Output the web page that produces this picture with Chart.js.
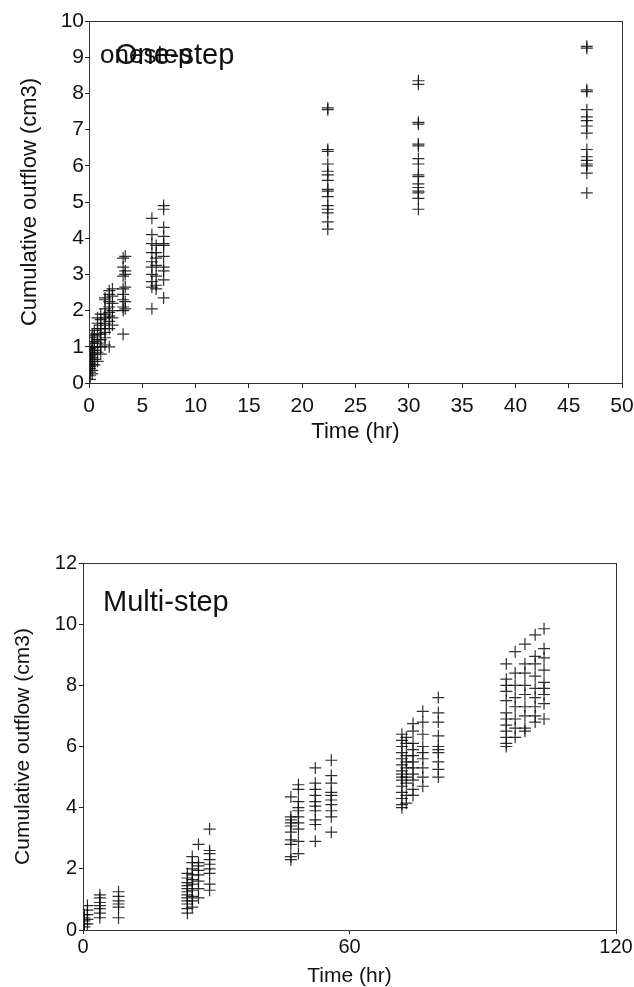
<!DOCTYPE html>
<html>
<head>
<meta charset="utf-8">
<title>Cumulative outflow</title>
<script src="https://cdn.jsdelivr.net/npm/chart.js@4.4.0/dist/chart.umd.min.js"></script>
<style>
    body {
        margin: 0;
        background: #fff;
        width: 634px;
        height: 987px;
        position: relative;
        overflow: hidden;
        font-family: "Liberation Sans", Arial, sans-serif;
    }
    .panel { position: absolute; left: 0; width: 634px; }
    #onePanel { top: 0; height: 450px; }
    #multiPanel { top: 500px; height: 487px; }
    .tag {
        position: absolute;
        color: #111;
        line-height: 1;
        white-space: nowrap;
    }
</style>
</head>
<body>
<div class="panel" id="onePanel"><canvas id="oneStepChart" width="634" height="450"></canvas></div>
<div class="panel" id="multiPanel"><canvas id="multiStepChart" width="634" height="487"></canvas></div>
<div class="tag" style="left:100px; top:41px; font-size:26px;">onestep</div>
<div class="tag" style="left:115px; top:40px; font-size:29px;">One-step</div>
<div class="tag" style="left:103px; top:587px; font-size:29px;">Multi-step</div>

<script>
// One-step run: sampling times (hr) and outflow readings (cm3) at each time
const oneStepTimes = [0.1, 0.3, 0.5, 0.8, 1.1, 1.5, 1.9, 2.2, 3.2, 3.4, 5.9, 6.3, 7.0, 22.4, 30.9, 46.7];
const oneStepOutflow = [
    [0.1, 0.2, 0.3, 0.4, 0.45, 0.55, 0.65, 0.75, 0.85, 0.95],
    [0.25, 0.35, 0.5, 0.6, 0.7, 0.8, 0.9, 1.0, 1.1, 1.25, 1.35],
    [0.5, 0.65, 0.8, 0.9, 1.0, 1.15, 1.3, 1.45],
    [0.6, 0.85, 1.0, 1.1, 1.2, 1.35, 1.5, 1.65, 1.8],
    [0.8, 1.0, 1.2, 1.35, 1.5, 1.6, 1.75, 1.9],
    [1.05, 1.25, 1.4, 1.5, 1.65, 1.8, 1.9, 2.05, 2.3, 2.35],
    [1.0, 1.5, 1.7, 1.85, 1.95, 2.1, 2.25, 2.45, 2.55],
    [1.6, 1.8, 2.0, 2.2, 2.4, 2.6],
    [1.35, 2.0, 2.1, 2.3, 2.45, 2.6, 2.95, 3.2, 3.45],
    [2.05, 2.25, 2.65, 3.0, 3.1, 3.5],
    [2.05, 2.65, 2.8, 3.0, 3.2, 3.35, 3.6, 3.85, 4.1, 4.55],
    [2.6, 2.7, 2.95, 3.25, 3.45, 3.6, 3.8],
    [2.35, 2.85, 3.1, 3.2, 3.5, 3.8, 3.85, 4.05, 4.3, 4.8, 4.9],
    [7.6, 7.55, 6.45, 6.4, 6.05, 5.85, 5.75, 5.6, 5.35, 5.3, 5.15, 4.9, 4.8, 4.7, 4.45, 4.25],
    [8.35, 8.25, 7.2, 7.15, 6.6, 6.55, 6.2, 6.05, 5.75, 5.7, 5.5, 5.4, 5.3, 5.25, 5.1, 4.8],
    [9.3, 9.25, 8.1, 8.05, 7.55, 7.35, 7.25, 7.1, 6.9, 6.45, 6.25, 6.15, 6.05, 6.0, 5.8, 5.25]
];

// Multi-step run
const multiStepTimes = [0.3, 1.0, 3.8, 8.0, 23.5, 24.6, 26.0, 28.5, 46.8, 48.5, 52.3, 55.9,
    71.8, 72.8, 74.3, 76.5, 80.0, 95.3, 97.3, 99.5, 101.8, 103.8];
const multiStepOutflow = [
    [0.1, 0.2, 0.3, 0.4, 0.5],
    [0.2, 0.35, 0.5, 0.65, 0.8],
    [0.4, 0.55, 0.7, 0.8, 0.9, 1.05, 1.15],
    [0.4, 0.75, 0.85, 0.95, 1.1, 1.25],
    [0.55, 0.7, 0.85, 0.95, 1.05, 1.15, 1.25, 1.35, 1.45, 1.55, 1.7, 1.85],
    [0.75, 0.95, 1.1, 1.3, 1.5, 1.65, 1.8, 2.0, 2.2, 2.4],
    [1.05, 1.35, 1.6, 1.8, 1.95, 2.1, 2.2, 2.8],
    [1.3, 1.5, 1.85, 2.0, 2.15, 2.3, 2.5, 2.6, 3.3],
    [2.3, 2.4, 2.8, 2.95, 3.2, 3.4, 3.5, 3.6, 3.7, 4.35],
    [2.5, 2.9, 3.3, 3.5, 3.7, 3.9, 4.0, 4.2, 4.6, 4.75],
    [2.9, 3.45, 3.6, 3.9, 4.05, 4.2, 4.4, 4.6, 4.8, 5.3],
    [3.2, 3.7, 3.9, 4.1, 4.25, 4.4, 4.5, 4.8, 5.05, 5.55],
    [4.0, 4.1, 4.3, 4.5, 4.7, 4.9, 5.0, 5.1, 5.2, 5.4, 5.6, 5.8, 6.0, 6.2, 6.4],
    [4.15, 4.4, 4.8, 5.0, 5.3, 5.5, 5.7, 6.1, 6.3],
    [4.4, 4.6, 4.9, 5.1, 5.3, 5.5, 5.7, 5.9, 6.1, 6.5, 6.75],
    [4.7, 5.0, 5.3, 5.6, 5.8, 6.0, 6.4, 6.8, 7.15],
    [5.0, 5.25, 5.5, 5.8, 5.9, 6.0, 6.35, 6.8, 7.1, 7.6],
    [6.0, 6.1, 6.3, 6.5, 6.7, 6.9, 7.1, 7.5, 7.8, 8.0, 8.2, 8.7],
    [6.3, 6.6, 6.9, 7.3, 7.6, 8.0, 8.4, 9.1],
    [6.5, 6.6, 7.0, 7.3, 7.7, 8.0, 8.4, 8.7, 9.35],
    [6.8, 7.0, 7.3, 7.6, 7.9, 8.3, 8.7, 8.95, 9.65],
    [6.9, 7.4, 7.7, 7.9, 8.1, 8.5, 8.9, 9.2, 9.85]
];

// Tick labels
const oneStepXTicks = [0, 5, 10, 15, 20, 25, 30, 35, 40, 45, 50];
const oneStepYTicks = [0, 1, 2, 3, 4, 5, 6, 7, 8, 9, 10];
const multiStepXTicks = [0, 60, 120];
const multiStepYTicks = [0, 2, 4, 6, 8, 10, 12];

const FONT = '"Liberation Sans", Arial, sans-serif';
const INK = '#222';

// Flatten time/reading columns into scatter points
function toPoints(times, readings) {
    const pts = [];
    times.forEach((t, i) => {
        readings[i].forEach(v => pts.push({ x: t, y: v }));
    });
    return pts;
}

// Closes the plot box (top and right edges)
const frameBox = {
    id: 'frameBox',
    afterDatasetsDraw(chart) {
        const a = chart.chartArea;
        const ctx = chart.ctx;
        ctx.save();
        ctx.strokeStyle = '#333';
        ctx.lineWidth = 1;
        ctx.strokeRect(Math.round(a.left) + 0.5, Math.round(a.top) + 0.5,
            Math.round(a.right - a.left), Math.round(a.bottom - a.top));
        ctx.restore();
    }
};

function makeChart(id, cfg) {
    const ctx = document.getElementById(id).getContext('2d');
    return new Chart(ctx, {
        type: 'scatter',
        data: {
            datasets: [{
                data: toPoints(cfg.times, cfg.readings),
                pointStyle: 'cross',
                pointRadius: 6,
                pointBorderWidth: 1.2,
                pointBorderColor: 'rgba(10, 10, 10, 0.85)',
                pointBackgroundColor: 'rgba(10, 10, 10, 0.85)'
            }]
        },
        options: {
            responsive: false,
            animation: false,
            layout: { padding: cfg.padding },
            plugins: {
                legend: { display: false },
                tooltip: { enabled: false }
            },
            scales: {
                x: {
                    type: 'linear',
                    min: cfg.xTicks[0],
                    max: cfg.xTicks[cfg.xTicks.length - 1],
                    afterBuildTicks: s => { s.ticks = cfg.xTicks.map(v => ({ value: v })); },
                    afterFit: s => {
                        s.height = cfg.xHeight;
                        s.paddingLeft = 0;
                        s.paddingRight = 0;
                    },
                    border: { display: true, color: INK, width: 1 },
                    grid: { drawOnChartArea: false, drawTicks: true, tickLength: cfg.xTickLen, color: INK },
                    ticks: {
                        color: '#111',
                        padding: cfg.xTickPad,
                        maxRotation: 0,
                        autoSkip: false,
                        font: { family: FONT, size: cfg.tickSize }
                    },
                    title: {
                        display: true,
                        text: 'Time (hr)',
                        color: '#111',
                        padding: { top: 0, bottom: cfg.xTitlePad },
                        font: { family: FONT, size: cfg.titleSize, lineHeight: cfg.xTitleLH }
                    }
                },
                y: {
                    min: cfg.yTicks[0],
                    max: cfg.yTicks[cfg.yTicks.length - 1],
                    afterBuildTicks: s => { s.ticks = cfg.yTicks.map(v => ({ value: v })); },
                    afterFit: s => {
                        s.width = cfg.yWidth;
                        s.paddingTop = 0;
                        s.paddingBottom = 0;
                    },
                    border: { display: true, color: INK, width: 1 },
                    grid: { drawOnChartArea: false, drawTicks: true, tickLength: 4, color: INK },
                    ticks: {
                        color: '#111',
                        padding: cfg.yTickPad,
                        autoSkip: false,
                        font: { family: FONT, size: cfg.tickSize }
                    },
                    title: {
                        display: true,
                        text: 'Cumulative outflow (cm3)',
                        color: '#111',
                        padding: { top: cfg.yTitlePad, bottom: 0 },
                        font: { family: FONT, size: cfg.titleSize }
                    }
                }
            }
        },
        plugins: [frameBox]
    });
}

document.addEventListener('DOMContentLoaded', function() {
    makeChart('oneStepChart', {
        times: oneStepTimes,
        readings: oneStepOutflow,
        xTicks: oneStepXTicks,
        yTicks: oneStepYTicks,
        padding: { left: 0, top: 21, right: 12, bottom: 0 },
        xHeight: 67,
        yWidth: 89,
        xTickLen: 5,
        xTickPad: 6,
        yTickPad: 1,
        tickSize: 21,
        titleSize: 22,
        xTitlePad: 5,
        xTitleLH: 1.2,
        yTitlePad: 17
    });

    makeChart('multiStepChart', {
        times: multiStepTimes,
        readings: multiStepOutflow,
        xTicks: multiStepXTicks,
        yTicks: multiStepYTicks,
        padding: { left: 0, top: 63, right: 18, bottom: 0 },
        xHeight: 57,
        yWidth: 83,
        xTickLen: 4,
        xTickPad: 1,
        yTickPad: 2,
        tickSize: 20,
        titleSize: 21,
        xTitlePad: 0,
        xTitleLH: 1,
        yTitlePad: 11
    });
});
</script>
</body>
</html>
